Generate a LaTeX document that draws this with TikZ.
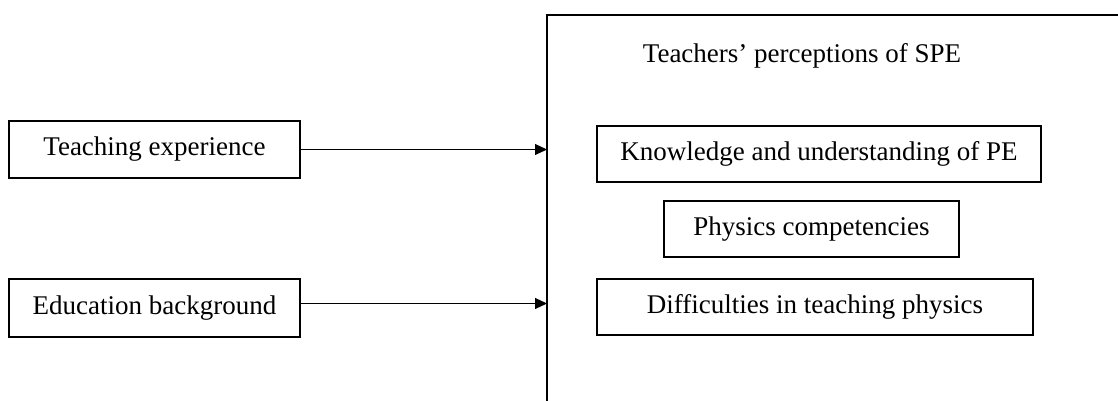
\documentclass[tikz,border=0pt]{standalone}
\usepackage{fontspec}
\setmainfont{Liberation Serif}
\usetikzlibrary{arrows.meta}
\begin{document}
\begin{tikzpicture}[x=1pt,y=-1pt,
  txt/.style={font=\fontsize{27}{32}\selectfont, inner sep=0pt},
  box/.style={draw, line width=1.1pt, inner sep=0pt},
  arr/.style={line width=1pt, -{Triangle[length=12pt,width=11pt]}}]
\useasboundingbox (0,0) rectangle (1118,401);
% outer box (extends beyond the page on the right and bottom)
\draw[line width=2.4pt] (547,420) -- (547,15) -- (1140,15);
\coordinate (outerW1) at (547,149.5);
\coordinate (outerW2) at (547,303.5);
% left boxes
\node[box, txt, minimum width=291pt, minimum height=57pt] (te) at (154.5,149.5) {Teaching experience};
\node[box, txt, minimum width=291pt, minimum height=58pt] (eb) at (154.5,308) {Education background};
% right side
\node[txt] (title) at (802,56) {Teachers’ perceptions of SPE};
\node[box, txt, minimum width=444pt, minimum height=56pt] (kn) at (819,154) {Knowledge and understanding of PE};
\node[box, txt, minimum width=295pt, minimum height=56pt] (ph) at (811.5,229) {Physics competencies};
\node[box, txt, minimum width=436pt, minimum height=56pt] (di) at (815,307) {Difficulties in teaching physics};
% arrows
\draw[arr] (te.east) -- (outerW1);
\draw[arr] (eb.east |- outerW2) -- (outerW2);
\end{tikzpicture}
\end{document}
